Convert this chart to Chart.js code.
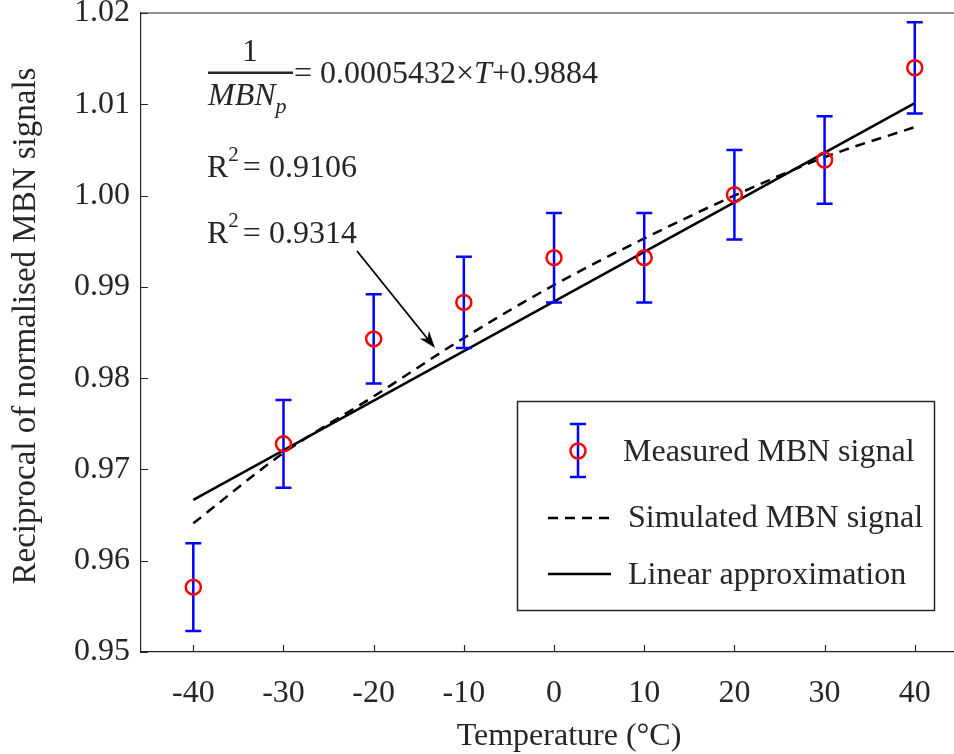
<!DOCTYPE html>
<html>
<head>
<meta charset="utf-8">
<script src="https://cdn.jsdelivr.net/npm/chart.js@4.4.1/dist/chart.umd.min.js"></script>
<style>
  html, body { margin: 0; padding: 0; background: #fff; overflow: hidden; }
  canvas { display: block; }
</style>
</head>
<body>
<canvas id="mbn" width="954" height="754"></canvas>
<script>
// temperature steps (°C)
const temperatures = [-40, -30, -20, -10, 0, 10, 20, 30, 40];
// reciprocal of normalised MBN signal, measured, with its error
const measured    = [0.9571, 0.9728, 0.9843, 0.9883, 0.9932, 0.9932, 1.0001, 1.0039, 1.0140];
const measuredErr = [0.0048, 0.0048, 0.0049, 0.0050, 0.0049, 0.0049, 0.0049, 0.0048, 0.0050];
// simulated signal
const simulated   = [0.9641, 0.9718, 0.9780, 0.9844, 0.9902, 0.9953, 1.0000, 1.0042, 1.0075];
// linear fit 1/MBNp = a*T + b, drawn over [-40, 40]
const fitSlope = 0.0005432;
const fitIntercept = 0.9884;
const fitRange = [-40, 40];
const r2First = '0.9106';
const r2Second = '0.9314';

const xTicks = [-40, -30, -20, -10, 0, 10, 20, 30, 40];
const yTicks = [0.95, 0.96, 0.97, 0.98, 0.99, 1.00, 1.01, 1.02];

const SERIF = '"Liberation Serif", "Times New Roman", serif';
const INK = '#262626';
const FS = 32;

function font(size, italic) {
  return (italic ? 'italic ' : '') + size + 'px ' + SERIF;
}

// draws a run of [text, size, italic, dy] pieces left to right, returns end x
function drawRun(ctx, x, y, pieces) {
  pieces.forEach(p => {
    ctx.font = font(p[1], p[2]);
    ctx.fillText(p[0], x, y + (p[3] || 0));
    x += ctx.measureText(p[0]).width;
  });
  return x;
}

// keep the plot box fixed: no extra room for edge labels
function noEdgePadding(s) {
  s.paddingTop = 0; s.paddingBottom = 0;
  s.paddingLeft = 0; s.paddingRight = 0;
}

const extras = {
  id: 'extras',
  // error bars go under the red circles
  beforeDatasetDraw(chart, args) {
    if (args.index !== 0) return;
    const { ctx, scales: { x, y } } = chart;
    ctx.save();
    ctx.strokeStyle = '#0000ff';
    ctx.lineWidth = 2.5;
    temperatures.forEach((t, i) => {
      const px = x.getPixelForValue(t);
      const top = y.getPixelForValue(measured[i] + measuredErr[i]);
      const bot = y.getPixelForValue(measured[i] - measuredErr[i]);
      ctx.beginPath();
      ctx.moveTo(px, top); ctx.lineTo(px, bot);
      ctx.moveTo(px - 8, top); ctx.lineTo(px + 8, top);
      ctx.moveTo(px - 8, bot); ctx.lineTo(px + 8, bot);
      ctx.stroke();
    });
    ctx.restore();
  },
  afterDraw(chart) {
    const { ctx, chartArea: a, scales: { x, y } } = chart;
    ctx.save();

    // top edge of the box and inward ticks
    ctx.strokeStyle = INK;
    ctx.lineWidth = 1.2;
    ctx.beginPath();
    ctx.moveTo(a.left, a.top); ctx.lineTo(a.right, a.top);
    xTicks.forEach(v => {
      const px = Math.round(x.getPixelForValue(v)) + 0.5;
      ctx.moveTo(px, a.bottom); ctx.lineTo(px, a.bottom - 7);
    });
    yTicks.forEach(v => {
      const py = Math.round(y.getPixelForValue(v)) + 0.5;
      ctx.moveTo(a.left, py); ctx.lineTo(a.left + 7, py);
    });
    ctx.stroke();

    // axis titles
    ctx.fillStyle = INK;
    ctx.textBaseline = 'alphabetic';
    ctx.font = font(FS);
    ctx.textAlign = 'center';
    ctx.fillText('Temperature (°C)', 569, 745);
    ctx.save();
    ctx.translate(35, 326);
    ctx.rotate(-Math.PI / 2);
    ctx.font = font(33);
    ctx.fillText('Reciprocal of normalised MBN signals', 0, 0);
    ctx.restore();

    // fitted equation
    ctx.textAlign = 'center';
    ctx.font = font(FS);
    ctx.fillText('1', 250, 61);
    ctx.fillRect(208, 71.5, 85, 2.5);
    ctx.textAlign = 'left';
    drawRun(ctx, 208, 105, [['MBN', FS, true], ['p', 22, true, 8]]);
    drawRun(ctx, 294, 83, [['= 0.0005432×', FS], ['T', FS, true], ['+0.9884', FS]]);

    // R² values
    [[r2First, 177], [r2Second, 243]].forEach(([val, base]) => {
      const ex = drawRun(ctx, 207, base, [['R', FS], ['2', 21, false, -16]]);
      drawRun(ctx, ex + 4, base, [['= ' + val, FS]]);
    });

    // arrow from the second R² to the simulated curve
    const x0 = 357, y0 = 251, x1 = 435, y1 = 348;
    const ang = Math.atan2(y1 - y0, x1 - x0);
    ctx.strokeStyle = '#000';
    ctx.fillStyle = '#000';
    ctx.lineWidth = 1.8;
    ctx.beginPath();
    ctx.moveTo(x0, y0);
    ctx.lineTo(x1 - 10 * Math.cos(ang), y1 - 10 * Math.sin(ang));
    ctx.stroke();
    ctx.save();
    ctx.translate(x1, y1);
    ctx.rotate(ang);
    ctx.beginPath();
    ctx.moveTo(0, 0);
    ctx.lineTo(-17, -6);
    ctx.lineTo(-12, 0);
    ctx.lineTo(-17, 6);
    ctx.closePath();
    ctx.fill();
    ctx.restore();

    // legend box
    ctx.strokeStyle = INK;
    ctx.lineWidth = 1.5;
    ctx.fillStyle = '#fff';
    ctx.fillRect(517, 401, 417, 209);
    ctx.strokeRect(517.5, 401.5, 417, 209);

    // measured entry: error bar + circle
    ctx.strokeStyle = '#0000ff';
    ctx.lineWidth = 2.5;
    ctx.beginPath();
    ctx.moveTo(578, 424); ctx.lineTo(578, 477);
    ctx.moveTo(570, 424); ctx.lineTo(586, 424);
    ctx.moveTo(570, 477); ctx.lineTo(586, 477);
    ctx.stroke();
    ctx.strokeStyle = '#ff0000';
    ctx.beginPath();
    ctx.arc(578, 451, 7.5, 0, Math.PI * 2);
    ctx.stroke();

    // simulated entry: dashed line
    ctx.strokeStyle = '#000';
    ctx.setLineDash([10, 7]);
    ctx.beginPath();
    ctx.moveTo(548, 518); ctx.lineTo(611, 518);
    ctx.stroke();
    ctx.setLineDash([]);
    // linear entry
    ctx.beginPath();
    ctx.moveTo(548, 574); ctx.lineTo(611, 574);
    ctx.stroke();

    ctx.fillStyle = INK;
    ctx.font = font(FS);
    ctx.textAlign = 'left';
    ctx.textBaseline = 'middle';
    ctx.fillText('Measured MBN signal', 623, 453);
    ctx.fillText('Simulated MBN signal', 628, 519);
    ctx.fillText('Linear approximation', 628, 576);

    ctx.restore();
  }
};

new Chart(document.getElementById('mbn'), {
  type: 'line',
  data: {
    datasets: [
      {
        label: 'Measured MBN signal',
        data: temperatures.map((t, i) => ({ x: t, y: measured[i] })),
        showLine: false,
        pointStyle: 'circle',
        pointRadius: 7.5,
        pointBorderWidth: 2.5,
        pointBorderColor: '#ff0000',
        pointBackgroundColor: 'rgba(0,0,0,0)'
      },
      {
        label: 'Simulated MBN signal',
        data: temperatures.map((t, i) => ({ x: t, y: simulated[i] })),
        borderColor: '#000',
        borderWidth: 2.5,
        borderDash: [10, 7],
        pointRadius: 0,
        cubicInterpolationMode: 'monotone'
      },
      {
        label: 'Linear approximation',
        data: fitRange.map(t => ({ x: t, y: fitSlope * t + fitIntercept })),
        borderColor: '#000',
        borderWidth: 2.5,
        pointRadius: 0
      }
    ]
  },
  options: {
    responsive: false,
    animation: false,
    layout: { autoPadding: false, padding: { top: 13, left: 0, right: 0, bottom: 0 } },
    plugins: { legend: { display: false }, tooltip: { enabled: false } },
    scales: {
      x: {
        type: 'linear',
        min: -45.8,
        max: 44.35,
        afterFit(s) { s.height = 102; noEdgePadding(s); },
        afterBuildTicks(s) { s.ticks = xTicks.map(v => ({ value: v })); },
        grid: { display: false, drawTicks: false },
        border: { color: INK, width: 1.2 },
        ticks: {
          font: { family: SERIF, size: FS },
          color: INK,
          padding: 22,
          maxRotation: 0,
          autoSkip: false,
          callback: v => String(v)
        }
      },
      y: {
        type: 'linear',
        min: 0.95,
        max: 1.02,
        afterFit(s) { s.width = 141; noEdgePadding(s); },
        afterBuildTicks(s) { s.ticks = yTicks.map(v => ({ value: v })); },
        grid: { display: false, drawTicks: false },
        border: { color: INK, width: 1.2 },
        ticks: {
          font: { family: SERIF, size: FS },
          color: INK,
          padding: 11,
          autoSkip: false,
          callback: v => v.toFixed(2)
        }
      }
    }
  },
  plugins: [extras]
});
</script>
</body>
</html>
